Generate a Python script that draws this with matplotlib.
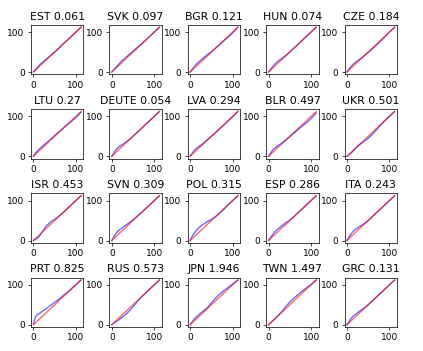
import matplotlib
matplotlib.use("Agg")
import matplotlib.pyplot as plt

countries = ["EST", "SVK", "BGR", "HUN", "CZE",
             "LTU", "DEUTE", "LVA", "BLR", "UKR",
             "ISR", "SVN", "POL", "ESP", "ITA",
             "PRT", "RUS", "JPN", "TWN", "GRC"]
scores = ["0.061", "0.097", "0.121", "0.074", "0.184",
          "0.27", "0.054", "0.294", "0.497", "0.501",
          "0.453", "0.309", "0.315", "0.286", "0.243",
          "0.825", "0.573", "1.946", "1.497", "0.131"]

quantiles = [0, 5, 10, 15, 20, 30, 40, 50, 60, 70, 80, 90, 100, 112]
blue = {
    "EST":   [0, 6, 12, 18, 23, 32, 41, 50, 60, 70, 80, 90, 100, 112],
    "SVK":   [0, 6, 12, 18, 24, 34, 43, 52, 61, 70, 80, 90, 100, 112],
    "BGR":   [0, 7, 14, 20, 25, 34, 43, 51, 60, 69, 79, 88, 98, 112],
    "HUN":   [0, 7, 14, 20, 25, 33, 41, 50, 60, 70, 80, 90, 100, 112],
    "CZE":   [0, 7, 14, 20, 24, 32, 40, 49, 58, 68, 78, 89, 100, 112],
    "LTU":   [0, 8, 14, 19, 24, 33, 42, 52, 61, 70, 79, 88, 97, 110],
    "DEUTE": [0, 8, 16, 22, 26, 33, 41, 50, 60, 70, 80, 90, 100, 112],
    "LVA":   [0, 8, 15, 20, 24, 32, 41, 50, 59, 69, 79, 89, 99, 112],
    "BLR":   [0, 8, 16, 21, 25, 32, 40, 49, 58, 67, 76, 85, 94, 108],
    "UKR":   [0, 4, 8, 14, 20, 29, 37, 45, 55, 67, 79, 90, 100, 112],
    "ISR":   [0, 3, 6, 12, 20, 36, 46, 53, 61, 70, 80, 90, 100, 112],
    "SVN":   [0, 10, 18, 24, 28, 36, 44, 52, 61, 70, 80, 90, 100, 112],
    "POL":   [0, 11, 19, 26, 32, 40, 47, 53, 60, 69, 79, 90, 100, 112],
    "ESP":   [0, 8, 15, 22, 27, 36, 44, 51, 60, 70, 80, 90, 100, 112],
    "ITA":   [0, 9, 17, 23, 28, 35, 42, 50, 60, 70, 80, 90, 100, 112],
    "PRT":   [3, 20, 26, 29, 33, 40, 48, 56, 64, 73, 81, 91, 100, 112],
    "RUS":   [0, 4, 8, 11, 15, 23, 33, 45, 58, 70, 80, 90, 100, 112],
    "JPN":   [0, 8, 15, 20, 25, 34, 42, 55, 67, 77, 86, 94, 102, 112],
    "TWN":   [0, 5, 10, 15, 20, 31, 45, 57, 67, 76, 85, 93, 101, 112],
    "GRC":   [0, 8, 16, 22, 26, 34, 42, 50, 60, 70, 80, 90, 100, 112],
}
ref_line = [0, 112]
tick_vals = [0, 100]

dpi = 65
fig = plt.figure(figsize=(423 / dpi, 351 / dpi), dpi=dpi)
fig.subplots_adjust(left=0.0733, right=0.9385, top=0.9288, bottom=0.0684,
                    wspace=0.495, hspace=0.71)

for i, (c, s) in enumerate(zip(countries, scores)):
    ax = fig.add_subplot(4, 5, i + 1)
    ax.plot(quantiles, blue[c], color="blue", alpha=0.6)
    ax.plot(ref_line, ref_line, color="red", alpha=0.6)
    ax.set_xticks(tick_vals)
    ax.set_yticks(tick_vals)
    ax.set_title(f"{c} {s}")

fig.savefig("out.png", dpi=dpi)
